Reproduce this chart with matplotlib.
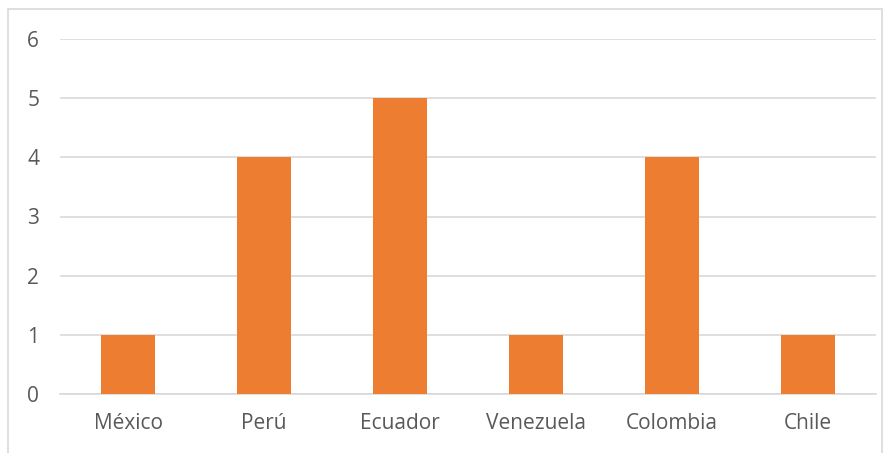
import matplotlib.pyplot as plt
from matplotlib.patches import Rectangle

# datos del grafico
paises = ['México', 'Perú', 'Ecuador', 'Venezuela', 'Colombia', 'Chile']
valores = [1, 4, 5, 1, 4, 1]
y_ticks = [0, 1, 2, 3, 4, 5, 6]

plt.rcParams['font.family'] = ['Open Sans', 'DejaVu Sans']

fig = plt.figure(figsize=(8.89, 4.53), dpi=100)
ax = fig.add_axes([60 / 889, 1 - 394 / 453, 816 / 889, 355 / 453])

x = range(len(paises))
ax.bar(x, valores, width=0.4, color='#ED7D31', zorder=3)

ax.set_xlim(-0.5, len(paises) - 0.5)
ax.set_ylim(0, 6)
ax.set_yticks(y_ticks)
ax.set_xticks(list(x))
ax.set_xticklabels(paises)
ax.grid(axis='y', color='#D9D9D9', linewidth=1.2, zorder=0)
for s in ['top', 'right', 'left']:
    ax.spines[s].set_visible(False)
ax.spines['bottom'].set_color('#D9D9D9')
ax.spines['bottom'].set_linewidth(1.2)
ax.tick_params(length=0, labelsize=15, labelcolor='#595959')
ax.tick_params(axis='x', pad=14)
ax.tick_params(axis='y', pad=15)

# borde del area del grafico
fig.patches.append(Rectangle((8 / 889, -0.05), 874 / 889, 1 - 9 / 453 + 0.05,
                             transform=fig.transFigure, fill=False,
                             edgecolor='#D9D9D9', linewidth=1.2))

fig.savefig('out.png', dpi=100)
